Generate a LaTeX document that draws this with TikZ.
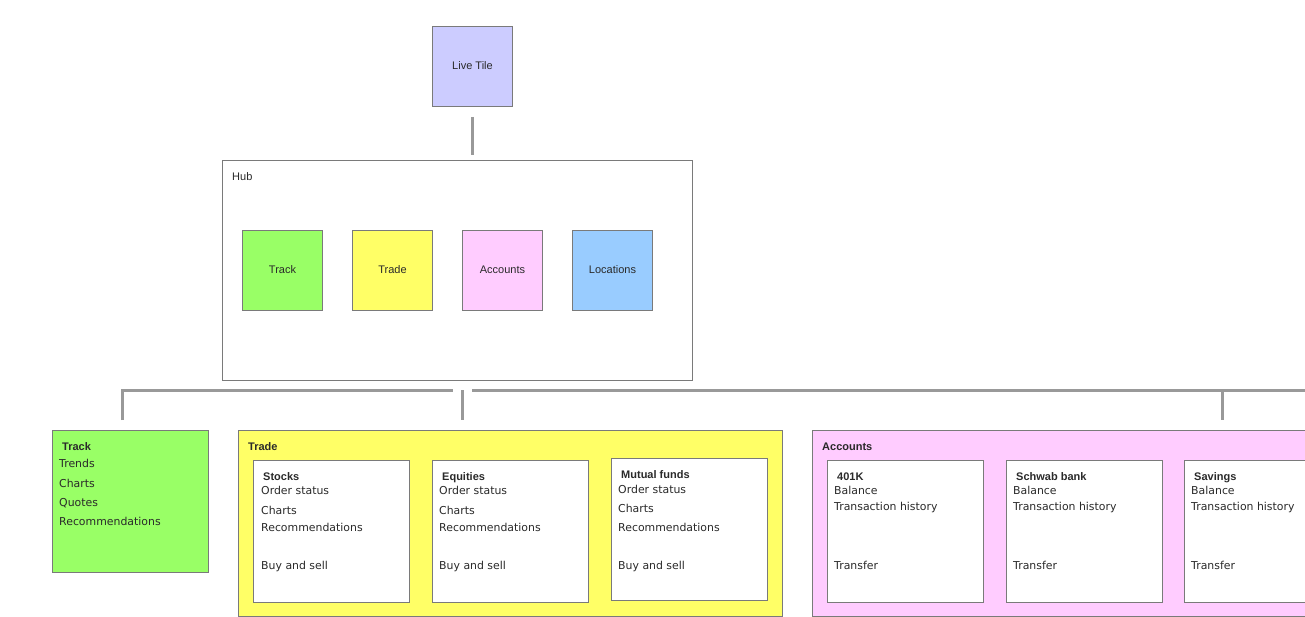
\documentclass[tikz,border=0pt]{standalone}
\usepackage{fontspec}
\newfontfamily\arialf{Liberation Sans}
\newfontfamily\verdf{DejaVu Sans}
\definecolor{bordergray}{HTML}{7A7A7A}
\definecolor{linegray}{HTML}{999999}
\definecolor{txt}{HTML}{2A2A2A}
\definecolor{lilac}{HTML}{CCCCFF}
\definecolor{lgreen}{HTML}{99FF66}
\definecolor{lyellow}{HTML}{FFFF66}
\definecolor{lpink}{HTML}{FFCCFF}
\definecolor{lblue}{HTML}{99CCFF}
\tikzset{
  box/.style={draw=bordergray, line width=1pt, rectangle, anchor=north west, inner sep=0pt},
  tile/.style={box, minimum width=80pt, minimum height=80pt, text=txt, text depth=2pt, font=\arialf\fontsize{11}{13}\selectfont},
  card/.style={box, fill=white, minimum width=156pt, minimum height=142pt},
  item/.style={anchor=base west, inner sep=0pt, text=txt, font=\verdf\fontsize{10.9}{13}\selectfont},
  head/.style={anchor=base west, inner sep=0pt, text=txt, font=\arialf\bfseries\fontsize{11}{13}\selectfont},
  label/.style={anchor=base west, inner sep=0pt, text=txt, font=\arialf\fontsize{11}{13}\selectfont},
  link/.style={draw=linegray, line width=3pt}
}
\begin{document}
\begin{tikzpicture}[x=1pt,y=-1pt]
\useasboundingbox (0,0) rectangle (1305,617);
\clip (0,0) rectangle (1305,617);
% top
\node[tile, fill=lilac] (live) at (432,26) {Live Tile};
\node[box, fill=white, minimum width=470pt, minimum height=220pt] (hub) at (222,160) {};
\node[label] (hublbl) at (232,180.5) {Hub};
\node[tile, fill=lgreen] (htrack) at (242,230) {Track};
\node[tile, fill=lyellow] (htrade) at (352,230) {Trade};
\node[tile, fill=lpink] (hacc) at (462,230) {Accounts};
\node[tile, fill=lblue] (hloc) at (572,230) {Locations};
% connectors
\coordinate (lt1) at (472,117);
\coordinate (lt2) at (472,155);
\draw[link] (lt1) -- (lt2);
\coordinate (dropA) at (122,420);
\coordinate (busA) at (453,390);
\draw[link] (dropA) |- (busA);
\coordinate (midT) at (462,390);
\coordinate (midB) at (462,419.5);
\draw[link] (midT) -- (midB);
\coordinate (busB) at (472,390);
\coordinate (busC) at (1320,390);
\draw[link] (busB) -- (busC);
\coordinate (dropCt) at (1222,390);
\coordinate (dropC) at (1222,420);
\draw[link] (dropCt) -- (dropC);
% Track detail
\node[box, fill=lgreen, minimum width=156pt, minimum height=142pt] (track) at (52,430) {};
\node[head] (trackh) at (62,450) {Track};
\node[item] (tr1) at (59,467) {Trends};
\node[item] (tr2) at (59,487) {Charts};
\node[item] (tr3) at (59,506) {Quotes};
\node[item] (tr4) at (59,525) {Recommendations};
% Trade detail
\node[box, fill=lyellow, minimum width=544pt, minimum height=186pt] (trade) at (238,430) {};
\node[head] (tradeh) at (248,450) {Trade};
\node[card] (stocks) at (253,460) {};
\node[head] (stocksh) at (263,480) {Stocks};
\node[item] (s1) at (261,494) {Order status};
\node[item] (s2) at (261,514) {Charts};
\node[item] (s3) at (261,531) {Recommendations};
\node[item] (s4) at (261,569) {Buy and sell};
\node[card] (equit) at (432,460) {};
\node[head] (equith) at (442,480) {Equities};
\node[item] (e1) at (439,494) {Order status};
\node[item] (e2) at (439,514) {Charts};
\node[item] (e3) at (439,531) {Recommendations};
\node[item] (e4) at (439,569) {Buy and sell};
\node[card] (mutual) at (611,458) {};
\node[head] (mutualh) at (621,478) {Mutual funds};
\node[item] (m1) at (618,493) {Order status};
\node[item] (m2) at (618,512) {Charts};
\node[item] (m3) at (618,531) {Recommendations};
\node[item] (m4) at (618,569) {Buy and sell};
% Accounts detail
\node[box, fill=lpink, minimum width=520pt, minimum height=186pt] (acc) at (812,430) {};
\node[head] (acch) at (822,450) {Accounts};
\node[card] (k401) at (827,460) {};
\node[head] (k401h) at (837,480) {401K};
\node[item] (k1) at (834,494) {Balance};
\node[item] (k2) at (834,510) {Transaction history};
\node[item] (k3) at (834,569) {Transfer};
\node[card] (schwab) at (1006,460) {};
\node[head] (schwabh) at (1016,480) {Schwab bank};
\node[item] (b1) at (1013,494) {Balance};
\node[item] (b2) at (1013,510) {Transaction history};
\node[item] (b3) at (1013,569) {Transfer};
\node[card] (sav) at (1184,460) {};
\node[head] (savh) at (1194,480) {Savings};
\node[item] (v1) at (1191,494) {Balance};
\node[item] (v2) at (1191,510) {Transaction history};
\node[item] (v3) at (1191,569) {Transfer};
\end{tikzpicture}
\end{document}
